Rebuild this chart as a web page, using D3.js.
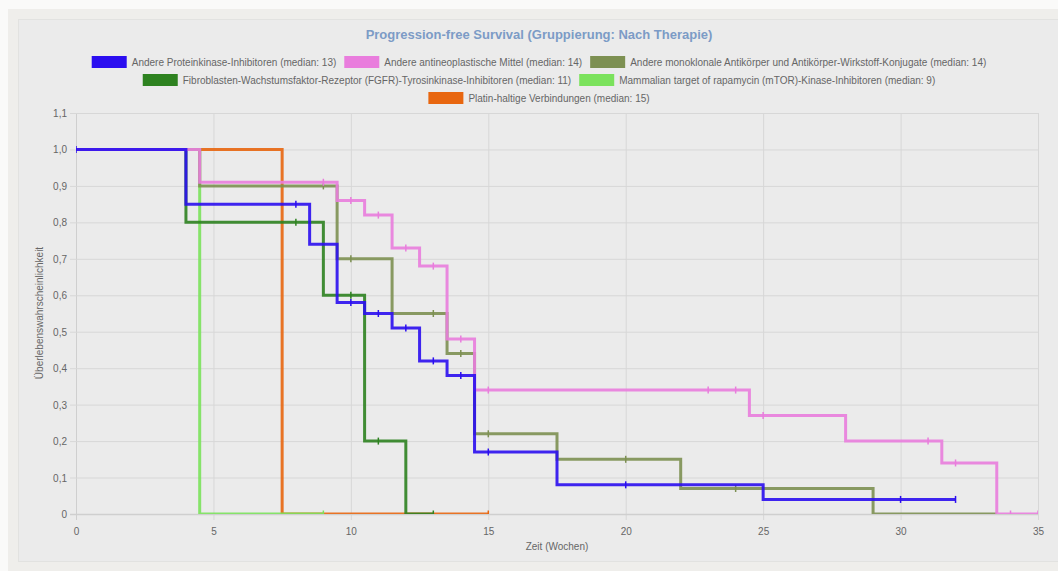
<!DOCTYPE html>
<html>
<head>
<meta charset="utf-8">
<script src="https://cdn.jsdelivr.net/npm/d3@7"></script>
<style>
  html, body { margin: 0; padding: 0; background: #fafaf9; }
  #outer { position: absolute; left: 8px; top: 9px; width: 1120px; height: 562px; background: #efeeeb; }
  #card { position: absolute; left: 18px; top: 19px; width: 1100px; height: 543px; background: #ebebeb; border: 1px solid #e2e2e0; box-sizing: border-box; }
  svg { position: absolute; left: 0; top: 0; font-family: "Liberation Sans", Arial, sans-serif; }
</style>
</head>
<body>
<div id="outer"></div>
<div id="card"></div>
<svg id="chart" width="1058" height="571"></svg>
<script>
// series labels and colours
const labels = [
  "Andere Proteinkinase-Inhibitoren (median: 13)",
  "Andere antineoplastische Mittel (median: 14)",
  "Andere monoklonale Antikörper und Antikörper-Wirkstoff-Konjugate (median: 14)",
  "Fibroblasten-Wachstumsfaktor-Rezeptor (FGFR)-Tyrosinkinase-Inhibitoren (median: 11)",
  "Mammalian target of rapamycin (mTOR)-Kinase-Inhibitoren (median: 9)",
  "Platin-haltige Verbindungen (median: 15)"
];
const colors = ["#2b0ef0", "#e97ddd", "#7d9052", "#2e8220", "#7be25c", "#e8660f"];

// step times / survival values / censor marks per series
const proteinTimes = [0, 4, 8.5, 9.5, 10.5, 11.5, 12.5, 13.5, 14.5, 17.5, 25, 32];
const proteinSurv  = [1, 0.85, 0.74, 0.58, 0.55, 0.51, 0.42, 0.38, 0.17, 0.08, 0.04, 0.04];
const proteinCens  = [0, 8, 10, 11, 12, 13, 14, 15, 20, 30, 32];

const antineoTimes = [0, 4.5, 9.5, 10.5, 11.5, 12.5, 13.5, 14.5, 24.5, 28, 31.5, 33.5, 35];
const antineoSurv  = [1, 0.91, 0.86, 0.82, 0.73, 0.68, 0.48, 0.34, 0.27, 0.20, 0.14, 0, 0];
const antineoCens  = [9, 10, 11, 12, 13, 14, 15, 23, 24, 25, 31, 32, 34, 35];

const mabTimes = [0, 4.5, 9.5, 11.5, 13.5, 14.5, 17.5, 22, 29, 33.5];
const mabSurv  = [1, 0.90, 0.70, 0.55, 0.44, 0.22, 0.15, 0.07, 0, 0];
const mabCens  = [9, 10, 13, 14, 15, 20, 24];

const fgfrTimes = [0, 4, 9, 10.5, 12, 13];
const fgfrSurv  = [1, 0.80, 0.60, 0.20, 0, 0];
const fgfrCens  = [8, 10, 11, 13];

const mtorTimes = [0, 4.5, 9];
const mtorSurv  = [1, 0, 0];
const mtorCens  = [9];

const platinTimes = [0, 7.5, 15];
const platinSurv  = [1, 0, 0];
const platinCens  = [15];

const xTicks = [0, 5, 10, 15, 20, 25, 30, 35];
const yTicks = [0, 0.1, 0.2, 0.3, 0.4, 0.5, 0.6, 0.7, 0.8, 0.9, 1.0, 1.1];

const series = [
  { times: proteinTimes, surv: proteinSurv, cens: proteinCens },
  { times: antineoTimes, surv: antineoSurv, cens: antineoCens },
  { times: mabTimes, surv: mabSurv, cens: mabCens },
  { times: fgfrTimes, surv: fgfrSurv, cens: fgfrCens },
  { times: mtorTimes, surv: mtorSurv, cens: mtorCens },
  { times: platinTimes, surv: platinSurv, cens: platinCens }
].map((s, i) => ({
  ...s,
  label: labels[i],
  color: colors[i],
  points: s.times.map((t, j) => [t, s.surv[j]])
}));

// survival value at time t (step after)
function survAt(s, t) {
  let v = s.surv[0];
  s.times.forEach((tt, j) => { if (tt <= t) v = s.surv[j]; });
  return v;
}

const plotLeft = 76, plotRight = 1038, plotTop = 113, plotBottom = 514;
const x = d3.scaleLinear().domain([0, 35]).range([plotLeft, plotRight]);
const y = d3.scaleLinear().domain([0, 1.1]).range([plotBottom, plotTop]);

const svg = d3.select("#chart");

// title
svg.append("text")
   .attr("x", 539).attr("y", 39)
   .attr("text-anchor", "middle")
   .attr("font-size", 13).attr("font-weight", "bold")
   .attr("fill", "#7c9bc6")
   .text("Progression-free Survival (Gruppierung: Nach Therapie)");

// legend
const legendRows = [[0, 1, 2], [3, 4], [5]];
const boxW = 35, boxH = 12, textGap = 5, itemPad = 8;
legendRows.forEach((row, r) => {
  const g = svg.append("g");
  const cy = 62 + r * 18;
  let cx = 0;
  row.forEach(i => {
    g.append("rect")
     .attr("x", cx).attr("y", cy - boxH / 2)
     .attr("width", boxW).attr("height", boxH)
     .attr("fill", colors[i]);
    const t = g.append("text")
     .attr("x", cx + boxW + textGap).attr("y", cy)
     .attr("dy", "0.35em")
     .attr("font-size", 10).attr("fill", "#666")
     .text(labels[i]);
    cx += boxW + textGap + t.node().getComputedTextLength() + itemPad;
  });
  const w = cx - itemPad;
  g.attr("transform", `translate(${539 - w / 2},0)`);
});

// grid + axes
const xAxis = svg.append("g")
   .attr("transform", `translate(0,${plotBottom})`)
   .call(d3.axisBottom(x).tickValues(xTicks).tickSize(-(plotBottom - plotTop)).tickFormat(d3.format("d")));
xAxis.select(".domain").remove();
xAxis.selectAll("line").attr("y1", 6).attr("stroke", "#d7d7d7");
xAxis.selectAll("text")
   .attr("y", 17).attr("dy", "0.35em")
   .attr("font-size", 10).attr("fill", "#666");

const yAxis = svg.append("g")
   .attr("transform", `translate(${plotLeft},0)`)
   .call(d3.axisLeft(y).tickValues(yTicks).tickSize(-(plotRight - plotLeft))
     .tickFormat(d => d === 0 ? "0" : d.toFixed(1).replace(".", ",")));
yAxis.select(".domain").remove();
yAxis.selectAll("line").attr("x1", -6).attr("stroke", "#d7d7d7");
yAxis.selectAll("text")
   .attr("x", -9).attr("dy", "0.35em")
   .attr("font-size", 10).attr("fill", "#666");
yAxis.selectAll(".tick").filter(d => d === 0).select("line").attr("stroke", "#cfcfcf").attr("stroke-width", 1.5);
xAxis.selectAll(".tick").filter(d => d === 0).select("line").attr("stroke", "#cfcfcf");

// axis titles
svg.append("text")
   .attr("x", 557).attr("y", 550)
   .attr("text-anchor", "middle")
   .attr("font-size", 10).attr("fill", "#666")
   .text("Zeit (Wochen)");
svg.append("text")
   .attr("transform", "translate(43,313) rotate(-90)")
   .attr("text-anchor", "middle")
   .attr("font-size", 10).attr("fill", "#666")
   .text("Überlebenswahrscheinlichkeit");

// plot clip
svg.append("clipPath").attr("id", "plotClip")
   .append("rect")
   .attr("x", plotLeft).attr("y", plotTop)
   .attr("width", plotRight - plotLeft).attr("height", plotBottom - plotTop);

const plot = svg.append("g").attr("clip-path", "url(#plotClip)");
const line = d3.line().x(d => x(d[0])).y(d => y(d[1])).curve(d3.curveStepAfter);

// first series drawn on top
series.slice().reverse().forEach(s => {
  const g = plot.append("g");
  g.append("path")
   .datum(s.points)
   .attr("d", line)
   .attr("fill", "none")
   .attr("stroke", s.color)
   .attr("stroke-width", 3)
   .attr("stroke-opacity", 0.9);
  g.selectAll("line")
   .data(s.cens)
   .enter()
   .append("line")
   .attr("x1", d => x(d)).attr("x2", d => x(d))
   .attr("y1", d => y(survAt(s, d)) - 3.5)
   .attr("y2", d => y(survAt(s, d)) + 3.5)
   .attr("stroke", s.color)
   .attr("stroke-width", 1.5);
});
</script>
</body>
</html>
